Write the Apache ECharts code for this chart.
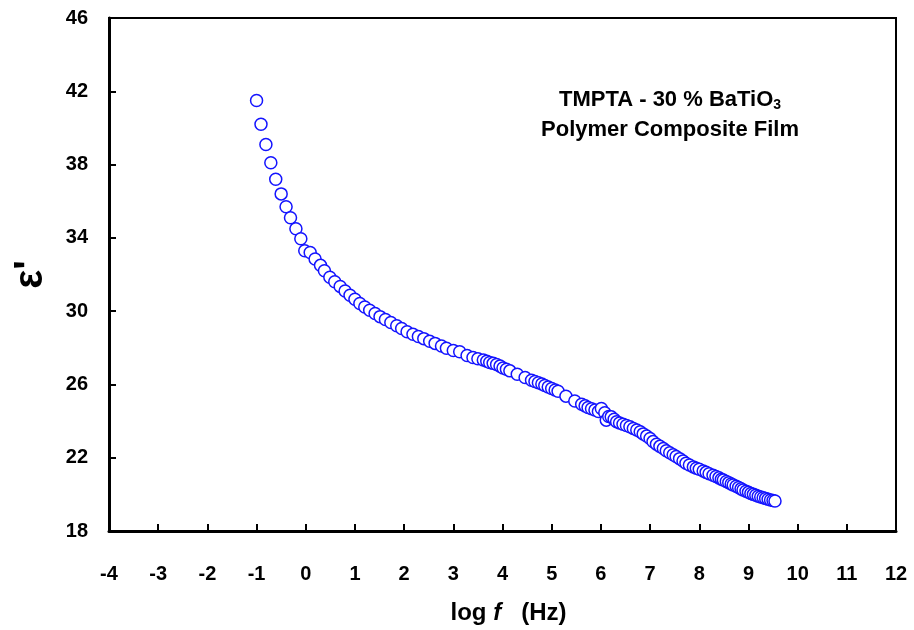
<!DOCTYPE html>
<html>
<head>
<meta charset="utf-8">
<script src="https://cdn.jsdelivr.net/npm/echarts@6/dist/echarts.min.js"></script>
<style>
  html, body { margin: 0; padding: 0; background: #fff; }
  #chart { width: 914px; height: 630px; }
</style>
</head>
<body>
<div id="chart"></div>
<script>
// log f (Hz) and permittivity
const logF = [
  -1.00, -0.91, -0.81, -0.71, -0.61, -0.50, -0.40, -0.31, -0.20, -0.10,
  -0.02, 0.09, 0.19, 0.30, 0.38, 0.49, 0.59, 0.70, 0.80, 0.90,
  1.00, 1.10, 1.20, 1.30, 1.41, 1.51, 1.62, 1.73, 1.85, 1.95,
  2.06, 2.18, 2.29, 2.40, 2.52, 2.63, 2.76, 2.86, 3.00, 3.13,
  3.28, 3.40, 3.50, 3.61, 3.68, 3.74, 3.81, 3.88, 3.95, 4.01,
  4.08, 4.15, 4.30, 4.46, 4.59, 4.66, 4.73, 4.80, 4.86, 4.93,
  5.00, 5.07, 5.13, 5.29, 5.47, 5.61, 5.68, 5.74, 5.81, 5.88,
  5.95, 6.01, 6.08, 6.11, 6.16, 6.21, 6.27, 6.32, 6.38, 6.45,
  6.52, 6.59, 6.66, 6.73, 6.80, 6.86, 6.93, 7.00, 7.06, 7.13,
  7.20, 7.27, 7.33, 7.40, 7.47, 7.53, 7.60, 7.67, 7.73, 7.80,
  7.88, 7.94, 8.00, 8.08, 8.14, 8.20, 8.28, 8.34, 8.40, 8.45,
  8.49, 8.55, 8.60, 8.65, 8.69, 8.75, 8.80, 8.85, 8.89, 8.95,
  9.00, 9.05, 9.10, 9.15, 9.20, 9.25, 9.30, 9.35, 9.40, 9.45,
  9.50, 9.54
];
const epsilon = [
  41.5, 40.2, 39.1, 38.1, 37.2, 36.4, 35.7, 35.1, 34.5, 33.95,
  33.3, 33.2, 32.85, 32.5, 32.2, 31.85, 31.6, 31.35, 31.1, 30.87,
  30.65, 30.42, 30.23, 30.05, 29.87, 29.7, 29.54, 29.38, 29.2, 29.05,
  28.88, 28.74, 28.62, 28.5, 28.36, 28.24, 28.1, 27.97, 27.85, 27.78,
  27.58, 27.47, 27.4, 27.33, 27.27, 27.2, 27.15, 27.09, 27.0, 26.9,
  26.83, 26.74, 26.56, 26.38, 26.23, 26.16, 26.09, 26.02, 25.94, 25.86,
  25.78, 25.7, 25.63, 25.36, 25.1, 24.92, 24.83, 24.74, 24.67, 24.6,
  24.52, 24.69, 24.45, 24.05, 24.25, 24.23, 24.1, 23.96, 23.9, 23.83,
  23.76, 23.69, 23.6, 23.51, 23.42, 23.3, 23.18, 23.05, 22.88, 22.74,
  22.62, 22.5, 22.38, 22.27, 22.16, 22.07, 21.95, 21.82, 21.7, 21.6,
  21.5, 21.43, 21.37, 21.28, 21.2, 21.13, 21.04, 20.97, 20.9, 20.83,
  20.78, 20.7, 20.64, 20.57, 20.51, 20.44, 20.37, 20.3, 20.24, 20.17,
  20.11, 20.05, 20.0, 19.95, 19.9, 19.86, 19.82, 19.78, 19.73, 19.69,
  19.66, 19.64
];
const xTicks = { min: -4, max: 12, step: 1 };
const yTicks = { min: 18, max: 46, step: 4 };

const font = 'Liberation Sans, Arial, sans-serif';
const chart = echarts.init(document.getElementById('chart'));

const option = {
  backgroundColor: '#fff',
  animation: false,
  grid: {
    left: 109, right: 18, top: 18, bottom: 99,
    outerBoundsMode: 'none',
    show: true, borderColor: '#000', borderWidth: 2
  },
  title: {
    text: '{t|TMPTA - 30 % BaTiO}{sub|3}\n{t|Polymer Composite Film}',
    left: 665, top: 80, textAlign: 'center',
    textStyle: {
      rich: {
        t: { fontFamily: font, fontWeight: 'bold', fontSize: 22, color: '#000', lineHeight: 30 },
        sub: { fontFamily: font, fontWeight: 'bold', fontSize: 14, color: '#000', padding: [11, 0, 0, 0], lineHeight: 30 }
      }
    }
  },
  xAxis: {
    type: 'value',
    min: xTicks.min, max: xTicks.max, interval: xTicks.step,
    name: '{n|log }{i|f}{n|   (Hz)}',
    nameLocation: 'middle', nameGap: 70,
    nameTextStyle: {
      padding: [0, 0, 0, 12],
      rich: {
        n: { fontFamily: font, fontWeight: 'bold', fontSize: 24, color: '#000' },
        i: { fontFamily: font, fontWeight: 'bold', fontStyle: 'italic', fontSize: 24, color: '#000' }
      }
    },
    axisLine: { onZero: false, lineStyle: { color: '#000', width: 3 } },
    axisTick: { inside: true, length: 7, lineStyle: { color: '#000', width: 2 } },
    axisLabel: { margin: 33, fontFamily: font, fontWeight: 'bold', fontSize: 20, color: '#000' },
    splitLine: { show: false }
  },
  yAxis: {
    type: 'value',
    min: yTicks.min, max: yTicks.max, interval: yTicks.step,
    name: "ε'",
    nameLocation: 'middle', nameGap: 58,
    nameTextStyle: { fontFamily: font, fontWeight: 'bold', fontSize: 40, color: '#000' },
    axisLine: { onZero: false, lineStyle: { color: '#000', width: 3 } },
    axisTick: { inside: true, length: 7, lineStyle: { color: '#000', width: 2 } },
    axisLabel: { margin: 21, fontFamily: font, fontWeight: 'bold', fontSize: 20, color: '#000' },
    splitLine: { show: false }
  },
  series: [{
    type: 'scatter',
    data: logF.map((x, i) => [x, epsilon[i]]),
    symbol: 'circle',
    symbolSize: 12,
    itemStyle: { color: '#fff', borderColor: '#1414ff', borderWidth: 1.5, opacity: 1 }
  }]
};
chart.setOption(option);
</script>
</body>
</html>
